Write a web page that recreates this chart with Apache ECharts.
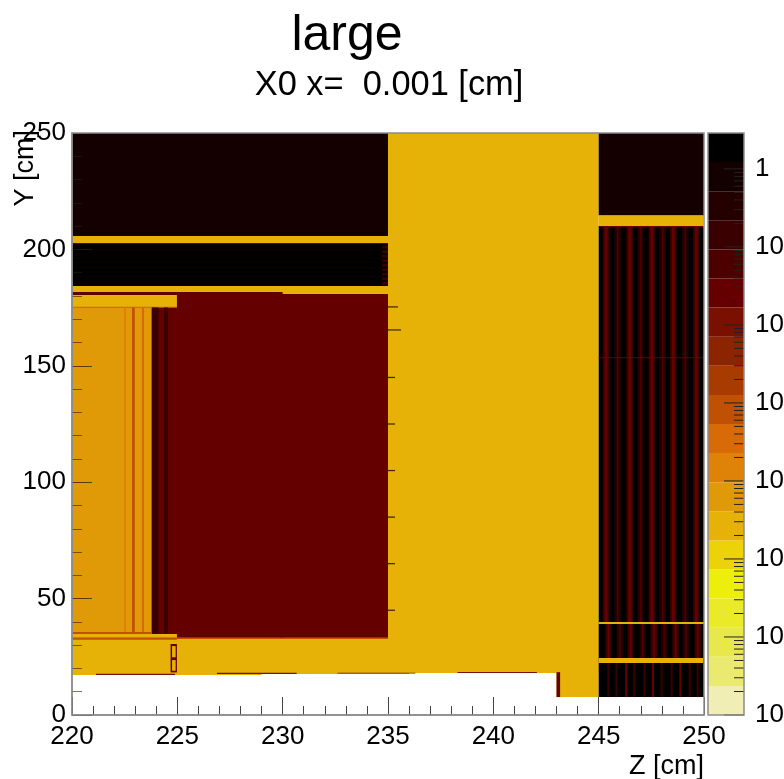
<!DOCTYPE html>
<html><head><meta charset="utf-8">
<style>html,body{margin:0;padding:0;background:#fff}#c{width:784px;height:779px}</style>
<script src="https://cdn.jsdelivr.net/npm/echarts@6/dist/echarts.min.js"></script>
</head><body><div id="c"></div>
<script>
// Palette, low to high
const palette = ['#f0eeb4','#eaea70','#e8e84c','#eaea28','#eeee0c','#ecd208','#e6b208','#e09a08','#de8208','#d86a08','#c05004','#a83c00','#8c2400','#7a1000','#640000','#4c0000','#380000','#240000','#140000','#000000'];
const logMin = -7, logMax = 0.46;
// Material values
const GOLD = 2.7e-5, AMBER = 6.3e-5, ORANGE = 3.5e-4, RUST = 8.3e-4, RED = 0.026, MAROON = 0.14, DEEP = 0.8, BLACK = 1.9, EDGE = 0.0107;
// [zMin, zMax, yMin, yMax, value]
const goldBody = [
  [220,229,17.2,205.8,GOLD],[228.9,236,17.6,205.8,GOLD],[235,245,18,250,GOLD],[235.9,243.1,18,40,GOLD],[243,245,7.7,40,GOLD]
];
const bottomSlivers = [
  [221.14,224.89,17.2,17.7,EDGE],[226.88,230.66,17.6,18.1,EDGE],[232.6,236.3,17.8,18.2,EDGE],[238.3,242.07,18,18.5,EDGE],[243,243.17,7.7,18.4,RED]
];
const upperLeft = [
  [220,235,205.8,250,DEEP],[220,235,184.3,202.7,BLACK],[220,235,202.3,202.8,RED],[234.72,235,184.6,202.3,MAROON]
];
const darkRedBlock = [
  [220,230,33.2,181.7,RED],[229.9,235,33.2,180.8,RED]
];
const leftColumn = [
  [220,224.98,175.3,180.4,GOLD],[220,224.98,174.9,175.4,ORANGE],[220,223.8,35,175,AMBER],
  [222.47,222.56,35,175,ORANGE/1.6],[222.85,222.98,35,175,RUST],[223.32,223.42,35,175,ORANGE],[223.75,223.8,35,175,RUST],
  [223.8,224.11,35,175,MAROON],[224.37,224.56,35,175,MAROON],
  [220,223.8,34.8,35.7,RUST],[220,224.98,33.2,34.8,GOLD],[220,224.98,32.3,33.2,RUST],[224.98,235,32.6,33.2,RUST]
];
const smallBox = [
  [224.68,224.98,18.3,30.5,RED],[224.75,224.92,24.8,29.6,GOLD],[224.75,224.92,19,23.6,GOLD]
];
const blackLineY = [201.9,200,198,196.1,194.2,192.2,190.3,188.4,186.4];
const rightBlock = [
  [245,250,214.6,250,DEEP],[245,250,7.7,209.8,BLACK]
];
const upperStripeZ = [245.35,245.9,246.47,246.99,247.52,248.04,248.54,249.11,249.63];
const middleStripeZ = [245.47,246.0,246.52,247.09,247.62,248.13,248.65,249.14,249.7];
const lowerStripeZ = [245.46,245.84,246.31,246.69,247.17,247.58,247.99,248.46,248.88,249.32,249.7];
const rightBands = [
  [245,250,153.2,153.7,RED],[245,250,39.1,39.9,GOLD],[245,249.96,22.3,24.5,GOLD],[245,249.96,209.8,214.6,GOLD],[245,249.96,209.6,210,RED]
];
// Short ticks right of Z = 235
const innerTickY = [175.3,165.4,145,125,105,85,65,45];
const innerTickLen = [10,13,7,7,7,7,7,7];
// Tick labels and colour-bar minor ticks
const decades = [-7,-6,-5,-4,-3,-2,-1,0];
const mantissas = [2,3,4,5,6,7,8,9];

const cells = [].concat(
  goldBody, bottomSlivers, upperLeft,
  blackLineY.map(y => [220,234.72,y-0.12,y+0.12,DEEP]),
  blackLineY.map(y => [234.72,235,y-0.35,y+0.35,BLACK]),
  darkRedBlock, leftColumn, smallBox, rightBlock,
  upperStripeZ.map((z,i) => [z-0.15,z+0.15,39.9,209.6,i%2?0.34:MAROON]),
  upperStripeZ.map((z,i) => [z-(i%2?0.04:0.07),z+(i%2?0.04:0.07),39.9,209.6,i%2?0.06:RED]),
  middleStripeZ.map((z,i) => [z-0.15,z+0.15,24.5,39.1,i%2?0.34:MAROON]),
  middleStripeZ.map((z,i) => [z-0.05,z+0.05,24.5,39.1,i%2?0.06:RED]),
  lowerStripeZ.map((z,i) => [z-0.05,z+0.05,7.7,22.3,i%3==2?RED:0.14]),
  rightBands
);
function colorOf(v){
  let i = Math.floor((Math.log10(v)-logMin)/(logMax-logMin)*palette.length);
  return palette[Math.max(0,Math.min(palette.length-1,i))];
}
const bandEdges = palette.map((c,i) => [Math.pow(10,logMin+(logMax-logMin)*i/palette.length), Math.pow(10,logMin+(logMax-logMin)*(i+1)/palette.length), i]);
const barTicks = [];
decades.forEach(d => {
  barTicks.push([Math.pow(10,d),20]);
  if (d < 0) mantissas.forEach(m => barTicks.push([m*Math.pow(10,d),10]));
});
const font = '"Liberation Sans", Arial, sans-serif';
const chart = echarts.init(document.getElementById('c'));
const frame = {borderColor:'#8c8c8c',borderWidth:1.5,show:true,backgroundColor:'transparent',containLabel:false,outerBoundsMode:'none',z:10};
chart.setOption({
  animation:false,
  backgroundColor:'#fff',
  title:[
    {text:'large',left:342,top:6,textAlign:'center',textStyle:{fontFamily:font,fontSize:50,fontWeight:'normal',color:'#000'}},
    {text:'X0 x=  0.001 [cm]',left:384,top:64,textAlign:'center',textStyle:{fontFamily:font,fontSize:34.4,fontWeight:'normal',color:'#000'}}
  ],
  grid:[
    Object.assign({left:72,top:133,width:632,height:582},frame),
    Object.assign({left:708,top:133,width:36,height:582},frame)
  ],
  xAxis:[
    {gridIndex:0,type:'value',min:220,max:250,interval:5,z:6,name:'Z [cm]',nameLocation:'end',nameGap:0,nameMoveOverlap:false,
     nameTextStyle:{fontFamily:font,fontSize:27,color:'#000',align:'right',verticalAlign:'top',padding:[38,0,0,0]},
     axisLine:{show:true,lineStyle:{color:'#8c8c8c',width:1.5}},
     axisTick:{show:true,inside:true,length:18,lineStyle:{color:'#444',width:1}},
     minorTick:{show:true,splitNumber:5,length:9,lineStyle:{color:'#444',width:1}},
     splitLine:{show:false},minorSplitLine:{show:false},
     axisLabel:{fontFamily:font,fontSize:26,color:'#000',margin:9,hideOverlap:false}},
    {gridIndex:1,type:'value',min:0,max:1,show:false}
  ],
  yAxis:[
    {gridIndex:0,type:'value',min:0,max:250,interval:50,z:6,name:'Y [cm]',nameLocation:'end',nameGap:3,nameRotate:90,nameMoveOverlap:false,
     nameTextStyle:{fontFamily:font,fontSize:27,color:'#000',align:'right',verticalAlign:'bottom',padding:[0,0,33,0]},
     axisLine:{show:true,lineStyle:{color:'#8c8c8c',width:1.5}},
     axisTick:{show:true,inside:true,length:20,lineStyle:{color:'rgba(40,30,0,0.75)',width:1}},
     minorTick:{show:true,splitNumber:5,length:10,lineStyle:{color:'rgba(40,30,0,0.6)',width:1}},
     splitLine:{show:false},minorSplitLine:{show:false},
     axisLabel:{fontFamily:font,fontSize:26,color:'#000',margin:6,hideOverlap:false}},
    {gridIndex:1,type:'log',logBase:10,position:'right',min:1e-7,max:Math.pow(10,logMax),
     axisLine:{show:false},axisTick:{show:false},splitLine:{show:false},minorTick:{show:false},
     axisLabel:{margin:11,showMaxLabel:false,showMinLabel:true,hideOverlap:false,fontFamily:font,fontSize:26,color:'#000',
       formatter:function(v){const e=Math.round(Math.log10(v));if(Math.abs(Math.log10(v)-e)>1e-6)return '';return e===0?'{b|1}':'{b|10}{s|'+e+'}';},
       rich:{b:{fontFamily:font,fontSize:26,color:'#000'},s:{fontFamily:font,fontSize:18,color:'#000',verticalAlign:'top',padding:[0,0,10,0]}}}}
  ],
  series:[
    {name:'X0',type:'custom',xAxisIndex:0,yAxisIndex:0,z:3,silent:true,clip:true,data:cells,encode:{x:[0,1],y:[2,3]},
     renderItem:function(p,api){
       const a=api.coord([api.value(0),api.value(3)]),b=api.coord([api.value(1),api.value(2)]);
       return {type:'rect',shape:{x:a[0],y:a[1],width:b[0]-a[0],height:b[1]-a[1]},style:{fill:colorOf(api.value(4))}};
     }},
    {name:'inner ticks',type:'custom',xAxisIndex:0,yAxisIndex:0,z:4,silent:true,data:innerTickY.map((y,i)=>[235,y,innerTickLen[i]]),encode:{x:0,y:1},
     renderItem:function(p,api){
       const a=api.coord([api.value(0),api.value(1)]);
       return {type:'line',shape:{x1:a[0],y1:a[1],x2:a[0]+api.value(2),y2:a[1]},style:{stroke:'#3a2400',lineWidth:1.2}};
     }},
    {name:'palette',type:'custom',xAxisIndex:1,yAxisIndex:1,z:3,silent:true,data:bandEdges,encode:{y:[0,1]},
     renderItem:function(p,api){
       const a=api.coord([0,api.value(1)]),b=api.coord([1,api.value(0)]);
       return {type:'rect',shape:{x:a[0],y:a[1],width:b[0]-a[0],height:b[1]-a[1]},style:{fill:palette[api.value(2)]}};
     }},
    {name:'bar ticks',type:'custom',xAxisIndex:1,yAxisIndex:1,z:4,silent:true,data:barTicks,encode:{y:0},
     renderItem:function(p,api){
       const a=api.coord([1,api.value(0)]);
       return {type:'line',shape:{x1:a[0],y1:a[1],x2:a[0]-api.value(1),y2:a[1]},style:{stroke:'#222',lineWidth:1}};
     }}
  ]
});
</script></body></html>
